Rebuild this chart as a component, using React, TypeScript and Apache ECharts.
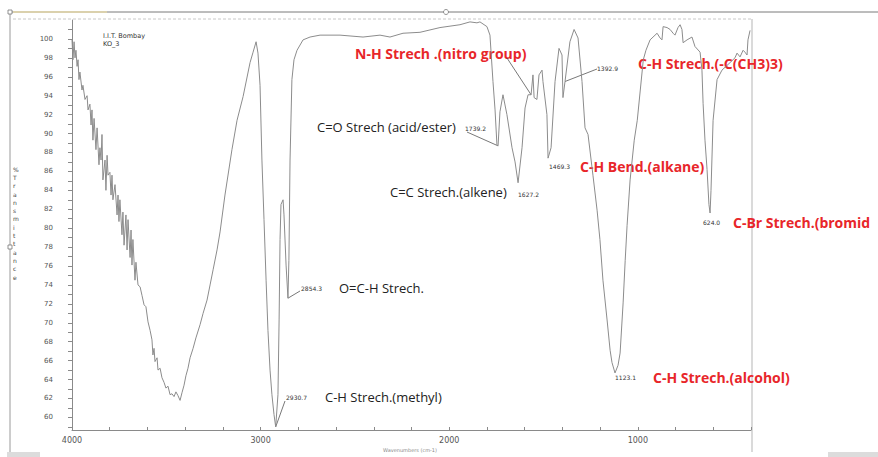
import React, { useEffect, useRef } from "react";
import * as echarts from "echarts";

// IR spectrum: wavenumber (cm-1) and % transmittance
const wavenumber = [
  4000, 3995, 3989, 3984, 3979, 3973, 3968, 3963, 3958, 3947, 3942, 3931, 3920, 3915, 3905, 3899, 3894, 3889, 3883, 3873,
  3867, 3857, 3852, 3846, 3841, 3836, 3825, 3820, 3814, 3809, 3799, 3793, 3788, 3783, 3772, 3761, 3756, 3751, 3746, 3735,
  3730, 3724, 3714, 3708, 3703, 3692, 3687, 3682, 3677, 3666, 3661, 3650, 3639, 3629, 3618, 3608, 3597, 3586, 3576, 3571,
  3565, 3560, 3549, 3544, 3533, 3523, 3512, 3502, 3491, 3480, 3470, 3459, 3449, 3438, 3427, 3417, 3406, 3396, 3385, 3374,
  3358, 3343, 3321, 3305, 3284, 3268, 3252, 3231, 3215, 3189, 3152, 3125, 3093, 3056, 3040, 3024, 3014, 3003, 2993, 2982,
  2971, 2961, 2950, 2940, 2929, 2920, 2908, 2902, 2897, 2892, 2881, 2876, 2865, 2855, 2850, 2844, 2834, 2823, 2807, 2775,
  2738, 2685, 2579, 2457, 2367, 2314, 2245, 2155, 2049, 1943, 1890, 1853, 1837, 1800, 1784, 1768, 1757, 1747, 1741, 1731,
  1715, 1694, 1667, 1651, 1635, 1614, 1598, 1582, 1566, 1556, 1550, 1535, 1524, 1508, 1503, 1482, 1476, 1460, 1439, 1418,
  1402, 1397, 1386, 1360, 1338, 1317, 1296, 1280, 1264, 1238, 1216, 1201, 1185, 1163, 1147, 1137, 1121, 1105, 1094, 1078,
  1067, 1057, 1041, 1019, 1003, 987, 971, 957, 935, 898, 882, 872, 866, 845, 829, 813, 803, 787, 776, 766,
  760, 739, 713, 697, 670, 660, 654, 644, 633, 623, 617, 612, 601, 580, 554, 511, 485, 474, 458, 442,
  432, 421, 416, 405,
];
const transmittance = [
  99.9, 97.8, 99.7, 98.0, 98.8, 97.1, 97.8, 95.7, 96.5, 94.6, 95.1, 93.6, 94.0, 92.5, 93.1, 90.9, 92.5, 89.3, 91.6, 88.3,
  90.6, 86.7, 88.5, 87.2, 89.9, 85.1, 87.2, 84.0, 87.7, 85.6, 85.9, 83.5, 85.6, 83.0, 84.6, 81.4, 83.5, 80.7, 83.0, 79.3,
  81.7, 78.2, 81.4, 77.7, 80.9, 76.9, 79.8, 76.1, 78.8, 74.5, 76.4, 74.0, 73.8, 72.9, 71.9, 71.7, 70.1, 69.2, 68.2, 66.6,
  67.3, 65.9, 66.3, 65.0, 65.2, 64.2, 63.7, 63.1, 63.3, 62.4, 62.5, 62.2, 62.7, 62.3, 61.8, 62.6, 63.4, 64.4, 65.2, 66.3,
  67.3, 68.4, 69.8, 71.0, 72.4, 74.0, 75.6, 77.7, 79.6, 83.5, 88.3, 91.4, 93.9, 97.5, 98.6, 99.7, 98.5, 95.1, 87.2, 80.9,
  74.5, 69.2, 65.0, 62.4, 60.3, 59.0, 62.4, 70.3, 78.8, 82.5, 83.0, 81.4, 76.1, 72.6, 76.6, 87.2, 95.7, 97.8, 98.8, 99.9,
  100.2, 100.4, 100.4, 100.2, 100.4, 100.2, 100.6, 100.7, 101.2, 101.5, 101.8, 101.7, 101.8, 101.3, 100.4, 95.5, 92.5, 88.8, 88.7, 92.3,
  94.1, 92.0, 88.5, 87.0, 84.8, 88.5, 92.7, 94.1, 94.1, 96.2, 93.8, 93.6, 96.2, 96.7, 95.5, 92.0, 87.4, 88.5, 95.5, 99.0,
  98.3, 93.8, 95.5, 99.7, 101.0, 100.1, 95.5, 90.6, 89.9, 85.6, 81.9, 78.8, 74.5, 70.3, 67.1, 65.8, 64.7, 65.5, 66.8, 72.1,
  76.6, 80.3, 85.1, 89.3, 91.4, 94.6, 97.8, 98.8, 99.9, 100.6, 100.1, 99.9, 101.3, 101.2, 101.0, 100.6, 100.4, 101.2, 101.5, 101.0,
  99.6, 99.9, 100.2, 99.2, 98.6, 96.7, 93.2, 89.3, 86.2, 82.5, 81.6, 84.0, 91.4, 95.7, 96.7, 97.5, 98.0, 98.5, 98.1, 98.8,
  98.6, 98.3, 99.9, 100.9,
];

const yLabelValues = [60, 62, 64, 66, 68, 70, 72, 74, 76, 78, 80, 82, 84, 86, 88, 90, 92, 94, 96, 98, 100];
const yTickValues = [59, 60, 61, 62, 63, 64, 65, 66, 67, 68, 69, 70, 71, 72, 73, 74, 75, 76, 77, 78, 79, 80, 81, 82, 83, 84, 85, 86, 87, 88, 89, 90, 91, 92, 93, 94, 95, 96, 97, 98, 99, 100, 101];
const xLabelValues = [1000, 2000, 3000, 4000];

const headerLines = ["I.I.T. Bombay", "KO_3"];
const yAxisTitle = "%Transmittance";
const xAxisTitle = "Wavenumbers (cm-1)";

// peak annotations
const peakNumbers = ["2930.7", "2854.3", "1739.2", "1627.2", "1469.3", "1392.9", "1123.1", "624.0"];
const peakWn = [2920, 2855, 1741, 1635, 1476, 1386, 1121, 617];
const peakNames = [
  "C-H Strech.(methyl)",
  "O=C-H Strech.",
  "C=O Strech (acid/ester)",
  "C=C Strech.(alkene)",
  "C-H Bend.(alkane)",
  "C-H Strech.(-C(CH3)3)",
  "C-H Strech.(alcohol)",
  "C-Br Strech.(bromid",
];
const nitroName = "N-H Strech .(nitro group)";
const nitroWn = 1566;

export default function App() {
  const ref = useRef<HTMLDivElement>(null);
  useEffect(() => {
    if (!ref.current) return;
    const chart = echarts.init(ref.current, null, { renderer: "svg" });
    const data = wavenumber.map((w, i) => [w, transmittance[i]]);
    const axisColor = "#8a8a8a";
    chart.setOption({
      animation: false,
      backgroundColor: "#ffffff",
      grid: { left: 72, right: 127, top: 20, bottom: 27 },
      xAxis: {
        type: "value",
        inverse: true,
        min: 400,
        max: 4000,
        interval: 200,
        axisLine: { show: true, lineStyle: { color: axisColor, width: 1 } },
        axisTick: { show: true, inside: true, length: 3, lineStyle: { color: axisColor } },
        axisLabel: {
          color: "#555",
          fontSize: 8,
          fontFamily: "DejaVu Sans",
          margin: 6,
          formatter: (v: number) => (xLabelValues.includes(v) ? String(v) : ""),
        },
        splitLine: { show: false },
      },
      yAxis: {
        type: "value",
        min: 58.67,
        max: 102,
        axisLine: { show: true, lineStyle: { color: axisColor, width: 1 } },
        axisTick: { show: true, length: 4, customValues: yTickValues, lineStyle: { color: axisColor } },
        axisLabel: {
          color: "#555",
          fontSize: 7,
          fontFamily: "DejaVu Sans",
          margin: 19,
          customValues: yLabelValues,
        },
        splitLine: { show: false },
      },
      series: [
        {
          type: "line",
          data,
          symbol: "none",
          lineStyle: { color: "#8c8c8c", width: 1 },
          silent: true,
        },
      ],
    });

    const px = (wn: number) => {
      const i = wavenumber.indexOf(wn);
      return chart.convertToPixel({ gridIndex: 0 }, [wn, transmittance[i]]) as number[];
    };

    const black = "#222";
    const red = "#e8262a";
    const nameFont = { fontFamily: "Open Sans", fontSize: 13 };
    const redFont = { fontFamily: "Open Sans", fontSize: 14, fontWeight: "bold" };
    const numFont = { fontFamily: "DejaVu Sans", fontSize: 6 };

    const layout = [
      { nx: 286, ny: 397, tx: 325, ty: 397, red: false, lead: [285, 401] },
      { nx: 301, ny: 288, tx: 339, ty: 288, red: false, lead: [300, 291] },
      { nx: 465, ny: 128, tx: 317, ty: 127, red: false, lead: [467, 132] },
      { nx: 518, ny: 194, tx: 390, ty: 192, red: false, lead: null },
      { nx: 549, ny: 166, tx: 580, ty: 166, red: true, lead: null },
      { nx: 597, ny: 68, tx: 638, ty: 63, red: true, lead: [597, 69] },
      { nx: 615, ny: 377, tx: 653, ty: 377, red: true, lead: null },
      { nx: 703, ny: 222, tx: 733, ty: 222, red: true, lead: null },
    ];

    const graphic: any[] = [];
    // frame and selection lines
    graphic.push({ type: "line", shape: { x1: 10, y1: 12, x2: 878, y2: 12 }, style: { stroke: "#7a7a7a", lineWidth: 1 } });
    graphic.push({ type: "line", shape: { x1: 13, y1: 12, x2: 107, y2: 12 }, style: { stroke: "#e6d9a8", lineWidth: 1.5 } });
    graphic.push({ type: "line", shape: { x1: 10, y1: 12, x2: 10, y2: 457 }, style: { stroke: "#9a9a9a", lineWidth: 1 } });
    graphic.push({ type: "line", shape: { x1: 13, y1: 19, x2: 752, y2: 19 }, style: { stroke: "#c8c8c8", lineWidth: 1, lineDash: [3, 2] } });
    graphic.push({ type: "line", shape: { x1: 752, y1: 19, x2: 752, y2: 452 }, style: { stroke: "#b5b5b5", lineWidth: 1 } });
    graphic.push({ type: "rect", shape: { x: 8, y: 10, width: 4, height: 4 }, style: { fill: "#fff", stroke: "#777", lineWidth: 0.8 } });
    graphic.push({ type: "circle", shape: { cx: 446, cy: 12, r: 2.5 }, style: { fill: "#fff", stroke: "#777", lineWidth: 0.8 } });
    graphic.push({ type: "rect", shape: { x: 8, y: 245, width: 4, height: 4 }, style: { fill: "#fff", stroke: "#777", lineWidth: 0.8 } });
    graphic.push({ type: "rect", shape: { x: 7, y: 452, width: 33, height: 5 }, style: { fill: "#dcdcdc" } });
    graphic.push({ type: "rect", shape: { x: 828, y: 452, width: 50, height: 5 }, style: { fill: "#dcdcdc" } });

    // header
    headerLines.forEach((t, i) => {
      graphic.push({ type: "text", x: 103, y: 32 + i * 8, style: { text: t, fill: "#333", fontFamily: "DejaVu Sans", fontSize: 6.5 } });
    });
    // y axis title, stacked letters
    graphic.push({
      type: "text",
      x: 13,
      y: 165,
      style: { text: yAxisTitle.split("").join("\n"), fill: "#444", fontFamily: "DejaVu Sans", fontSize: 6, lineHeight: 8.3 },
    });
    graphic.push({
      type: "text",
      x: 410,
      y: 450,
      style: { text: xAxisTitle, fill: "#888", fontFamily: "DejaVu Sans", fontSize: 5, align: "center", verticalAlign: "middle" },
    });

    peakNumbers.forEach((num, i) => {
      const L = layout[i];
      graphic.push({
        type: "text",
        x: L.nx,
        y: L.ny,
        style: { text: num, fill: "#333", ...numFont, verticalAlign: "middle" },
      });
      graphic.push({
        type: "text",
        x: L.tx,
        y: L.ty,
        style: { text: peakNames[i], fill: L.red ? red : black, ...(L.red ? redFont : nameFont), verticalAlign: "middle" },
      });
      if (L.lead) {
        const p = px(peakWn[i]);
        graphic.push({
          type: "line",
          shape: { x1: L.lead[0], y1: L.lead[1], x2: p[0], y2: p[1] },
          style: { stroke: "#555", lineWidth: 0.8 },
        });
      }
    });
    // nitro group annotation
    graphic.push({
      type: "text",
      x: 355,
      y: 53,
      style: { text: nitroName, fill: red, ...redFont, verticalAlign: "middle" },
    });
    const pn = px(nitroWn);
    graphic.push({
      type: "line",
      shape: { x1: 507, y1: 58, x2: pn[0], y2: pn[1] },
      style: { stroke: "#555", lineWidth: 0.8 },
    });

    chart.setOption({ graphic });
    return () => chart.dispose();
  }, []);
  return <div ref={ref} style={{ position: "fixed", left: 0, top: 0, width: 878, height: 457, background: "#fff" }} />;
}
